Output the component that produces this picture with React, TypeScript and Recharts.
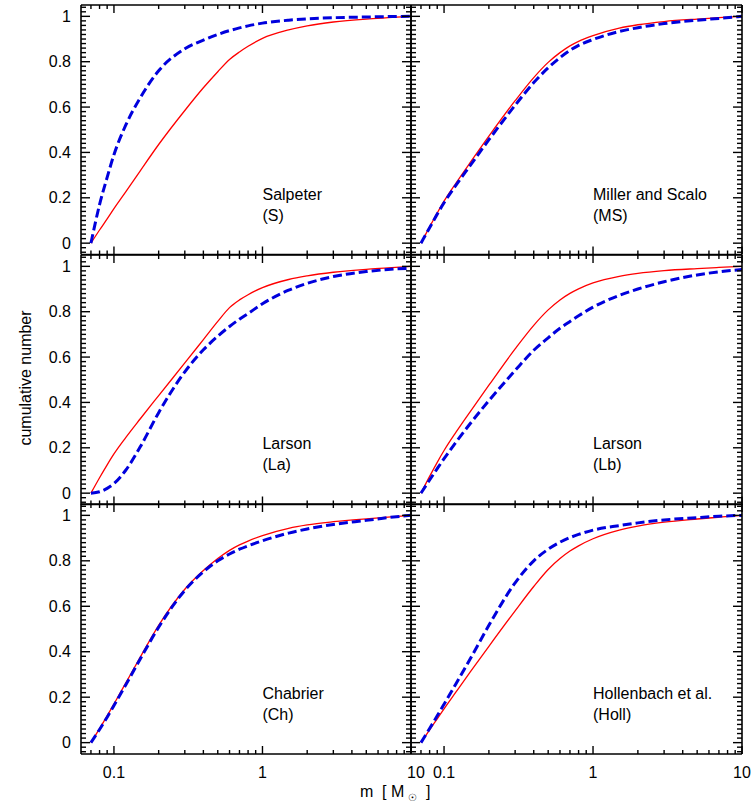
import React from 'react';
import { LineChart, Line, XAxis, YAxis } from 'recharts';

// ---------- data ----------
const masses = [0.07, 0.08, 0.09, 0.1, 0.12, 0.15, 0.2, 0.3, 0.4, 0.5, 0.6, 0.7, 0.8, 1, 1.5, 2, 3, 5, 7, 10];

const salpeterSolid = [0, 0.058, 0.107, 0.152, 0.226, 0.318, 0.435, 0.585, 0.685, 0.756, 0.81, 0.843, 0.868, 0.903, 0.94, 0.958, 0.975, 0.988, 0.994, 1.0];
const salpeterDashed = [0, 0.17, 0.29, 0.39, 0.52, 0.64, 0.76, 0.857, 0.895, 0.92, 0.937, 0.949, 0.958, 0.97, 0.983, 0.989, 0.994, 0.997, 0.999, 1.0];

const millerSolid = [0, 0.072, 0.133, 0.185, 0.264, 0.356, 0.472, 0.628, 0.73, 0.797, 0.84, 0.87, 0.89, 0.915, 0.948, 0.963, 0.977, 0.988, 0.994, 1.0];
const millerDashed = [0, 0.068, 0.128, 0.178, 0.255, 0.343, 0.456, 0.608, 0.708, 0.773, 0.818, 0.85, 0.872, 0.898, 0.933, 0.95, 0.968, 0.983, 0.991, 1.0];

const larsonASolid = [0, 0.068, 0.125, 0.173, 0.245, 0.327, 0.43, 0.574, 0.677, 0.757, 0.818, 0.852, 0.875, 0.906, 0.942, 0.958, 0.974, 0.987, 0.993, 1.0];
const larsonADashed = [0, 0.006, 0.021, 0.042, 0.101, 0.203, 0.355, 0.535, 0.632, 0.692, 0.735, 0.767, 0.792, 0.835, 0.895, 0.925, 0.955, 0.977, 0.986, 0.992];

const larsonBSolid = [0, 0.074, 0.136, 0.188, 0.268, 0.36, 0.476, 0.636, 0.74, 0.808, 0.852, 0.881, 0.901, 0.927, 0.956, 0.969, 0.981, 0.99, 0.995, 1.0];
const larsonBDashed = [0, 0.058, 0.108, 0.152, 0.224, 0.307, 0.408, 0.541, 0.63, 0.685, 0.727, 0.757, 0.782, 0.82, 0.872, 0.9, 0.932, 0.962, 0.976, 0.986];

const chabrierSolid = [0, 0.062, 0.118, 0.17, 0.262, 0.375, 0.516, 0.675, 0.757, 0.81, 0.846, 0.87, 0.887, 0.911, 0.943, 0.958, 0.972, 0.985, 0.992, 1.0];
const chabrierDashed = [0, 0.058, 0.112, 0.163, 0.254, 0.367, 0.508, 0.67, 0.752, 0.8, 0.83, 0.851, 0.866, 0.888, 0.922, 0.94, 0.96, 0.978, 0.99, 1.0];

const hollSolid = [0, 0.056, 0.105, 0.149, 0.222, 0.311, 0.424, 0.58, 0.687, 0.762, 0.81, 0.843, 0.866, 0.897, 0.935, 0.953, 0.97, 0.984, 0.992, 1.0];
const hollDashed = [0, 0.062, 0.118, 0.169, 0.258, 0.369, 0.516, 0.703, 0.8, 0.851, 0.882, 0.902, 0.916, 0.935, 0.955, 0.967, 0.98, 0.99, 0.996, 1.0];

const panelNames = ['Salpeter', 'Miller and Scalo', 'Larson', 'Larson', 'Chabrier', 'Hollenbach et al.'];
const panelAbbr = ['(S)', '(MS)', '(La)', '(Lb)', '(Ch)', '(Holl)'];
const solidSeries = [salpeterSolid, millerSolid, larsonASolid, larsonBSolid, chabrierSolid, hollSolid];
const dashedSeries = [salpeterDashed, millerDashed, larsonADashed, larsonBDashed, chabrierDashed, hollDashed];

const xTicks = [0.07, 0.08, 0.09, 0.1, 0.2, 0.3, 0.4, 0.5, 0.6, 0.7, 0.8, 0.9, 1, 2, 3, 4, 5, 6, 7, 8, 9, 10];
const xMajor = [0.1, 1, 10];
const xTickLabels = ['0.1', '1', '10'];
const yMajor = [0, 0.2, 0.4, 0.6, 0.8, 1];
const yTickLabels = ['0', '0.2', '0.4', '0.6', '0.8', '1'];
const yTicks: number[] = [];
for (let k = -2; k <= 52; k++) yTicks.push(Math.round(k * 2) / 100);

// ---------- layout ----------
const W = 756;
const H = 807;
const COL_X = [81, 411, 742];
const ROW_Y = [5, 254.5, 504, 754];
const X_DOMAIN: [number, number] = [0.06, 10];
const Y_DOMAIN: [number, number] = [-0.05, 1.05];
const FONT = '"Liberation Sans", Arial, Helvetica, sans-serif';
const RED = '#ff0000';
const BLUE = '#0000dd';

const near = (a: number, b: number) => Math.abs(a - b) < 1e-9;

function XTick(props: any) {
  const { x, y, payload, dir, showLabel, col } = props;
  const v = payload.value;
  const mi = xMajor.findIndex((t) => near(t, v));
  const major = mi >= 0;
  const len = major ? 8 : 4;
  return (
    <g>
      <line x1={x} x2={x} y1={y} y2={y + dir * len} stroke="#000" strokeWidth={1.4} />
      {showLabel && major && (
        <text
          x={x + (col === 0 && near(v, 10) ? 5 : 0)}
          y={y + 18}
          dy="0.35em"
          textAnchor="middle"
          fontFamily={FONT}
          fontSize={16}
          fill="#000"
        >
          {xTickLabels[mi]}
        </text>
      )}
    </g>
  );
}

function YTick(props: any) {
  const { x, y, payload, dir, showLabel } = props;
  const v = payload.value;
  const mi = yMajor.findIndex((t) => near(t, v));
  const major = mi >= 0;
  const len = major ? 9 : 5;
  return (
    <g>
      <line x1={x} x2={x + dir * len} y1={y} y2={y} stroke="#000" strokeWidth={1.4} />
      {showLabel && major && (
        <text x={x - 10} y={y} dy="0.35em" textAnchor="end" fontFamily={FONT} fontSize={16} fill="#000">
          {yTickLabels[mi]}
        </text>
      )}
    </g>
  );
}

function Panel({ idx }: { idx: number }) {
  const r = Math.floor(idx / 2);
  const c = idx % 2;
  const left = COL_X[c];
  const right = COL_X[c + 1];
  const top = ROW_Y[r];
  const bottom = ROW_Y[r + 1];
  const padTop = 10;
  const padBottom = 50;
  const h = bottom - top + padTop + padBottom;
  const data = masses.map((m, i) => ({ m, solid: solidSeries[idx][i], dashed: dashedSeries[idx][i] }));
  const axisLine = { stroke: '#000', strokeWidth: 1.6 };
  return (
    <div style={{ position: 'absolute', left: 0, top: top - padTop, width: W, height: h }}>
      <LineChart
        width={W}
        height={h}
        data={data}
        margin={{ top: padTop - 1, bottom: padBottom - 1, left: left - 1, right: W - right - 1 }}
      >
        <XAxis
          xAxisId="b"
          dataKey="m"
          type="number"
          scale="log"
          domain={X_DOMAIN}
          allowDataOverflow
          ticks={xTicks}
          interval={0}
          height={1}
          tickSize={0}
          tickMargin={0}
          tickLine={false}
          axisLine={axisLine}
          tick={(p: any) => <XTick {...p} dir={-1} showLabel={r === 2} col={c} />}
        />
        <XAxis
          xAxisId="t"
          orientation="top"
          dataKey="m"
          type="number"
          scale="log"
          domain={X_DOMAIN}
          allowDataOverflow
          ticks={xTicks}
          interval={0}
          height={1}
          tickSize={0}
          tickMargin={0}
          tickLine={false}
          axisLine={axisLine}
          tick={(p: any) => <XTick {...p} dir={1} showLabel={false} col={c} />}
        />
        <YAxis
          yAxisId="l"
          type="number"
          domain={Y_DOMAIN}
          allowDataOverflow
          ticks={yTicks}
          interval={0}
          width={1}
          tickSize={0}
          tickMargin={0}
          tickLine={false}
          axisLine={axisLine}
          tick={(p: any) => <YTick {...p} dir={1} showLabel={c === 0} />}
        />
        <YAxis
          yAxisId="r"
          orientation="right"
          type="number"
          domain={Y_DOMAIN}
          allowDataOverflow
          ticks={yTicks}
          interval={0}
          width={1}
          tickSize={0}
          tickMargin={0}
          tickLine={false}
          axisLine={axisLine}
          tick={(p: any) => <YTick {...p} dir={-1} showLabel={false} />}
        />
        <Line
          xAxisId="b"
          yAxisId="l"
          dataKey="solid"
          type="monotone"
          stroke={RED}
          strokeWidth={1.3}
          dot={false}
          isAnimationActive={false}
        />
        <Line
          xAxisId="b"
          yAxisId="l"
          dataKey="dashed"
          type="monotone"
          stroke={BLUE}
          strokeWidth={3}
          strokeDasharray="9 4"
          dot={false}
          isAnimationActive={false}
        />
      </LineChart>
    </div>
  );
}

function annotX(col: number) {
  const l = COL_X[col];
  const w = COL_X[col + 1] - l;
  const f = (Math.log10(1) - Math.log10(X_DOMAIN[0])) / (Math.log10(X_DOMAIN[1]) - Math.log10(X_DOMAIN[0]));
  return l + f * w;
}

export default function App() {
  return (
    <div style={{ position: 'absolute', left: 0, top: 0, width: W, height: H, background: '#fff' }}>
      {[0, 1, 2, 3, 4, 5].map((i) => (
        <Panel key={i} idx={i} />
      ))}
      <svg
        width={W}
        height={H}
        style={{ position: 'absolute', left: 0, top: 0, pointerEvents: 'none' }}
        fontFamily={FONT}
      >
        {panelNames.map((name, i) => {
          const r = Math.floor(i / 2);
          const c = i % 2;
          const x = annotX(c);
          const t = ROW_Y[r];
          return (
            <g key={i}>
              <text x={x} y={t + 194.5} fontSize={16} fill="#000">
                {name}
              </text>
              <text x={x} y={t + 215.5} fontSize={16} fill="#000">
                {panelAbbr[i]}
              </text>
            </g>
          );
        })}
        <text
          x={25}
          y={378}
          dy="0.35em"
          textAnchor="middle"
          fontSize={16}
          fill="#000"
          transform="rotate(-90, 25, 378)"
        >
          cumulative number
        </text>
        <text x={360} y={797} fontSize={16} fill="#000">
          m
        </text>
        <text x={382} y={797} fontSize={16} fill="#000">
          [ M
        </text>
        <text x={412} y={801} fontSize={10} fill="#000" textAnchor="middle">
          ☉
        </text>
        <text x={426} y={797} fontSize={16} fill="#000">
          ]
        </text>
      </svg>
    </div>
  );
}
